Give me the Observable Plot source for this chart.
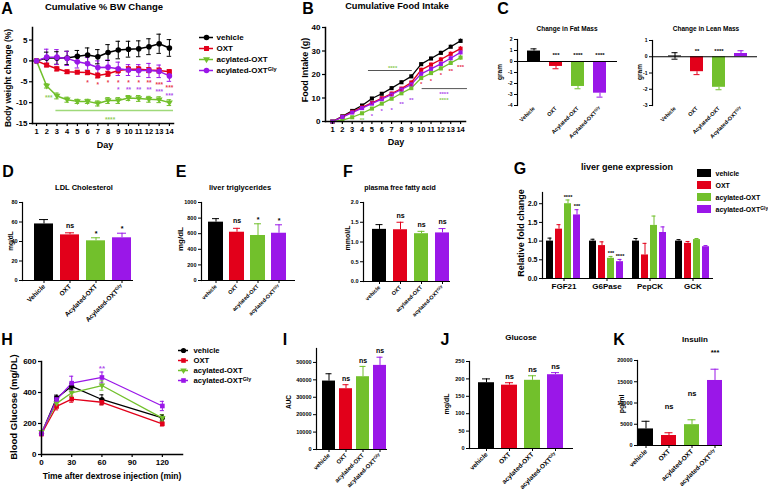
<!DOCTYPE html>
<html><head><meta charset="utf-8">
<script src="https://cdn.jsdelivr.net/npm/d3@7"></script>
<script src="https://cdn.jsdelivr.net/npm/@observablehq/plot@0.6"></script>
<style>
body{margin:0;background:#fff;}
#page{position:relative;width:768px;height:492px;overflow:hidden;background:#fff;font-family:'Liberation Sans',Arial,sans-serif;}
#page svg{position:absolute;left:0;top:0;max-width:none;}
.lbl{position:absolute;white-space:nowrap;line-height:1;font-weight:bold;color:#000;}
</style></head><body><div id="page"></div>
<script>
// ================= DATA =================
const names = ["vehicle", "OXT", "acylated-OXT", "acylated-OXTGly"];
const namesCap = ["Vehicle", "OXT", "Acylated-OXT", "Acylated-OXTGly"];
const colors = ["#000000", "#e2001a", "#72c02c", "#9a17e8"];

// A: cumulative % body weight change
const days = [1, 2, 3, 4, 5, 6, 7, 8, 9, 10, 11, 12, 13, 14];
const bwVehicle = [0, 0.7, 0.7, 0.7, 1.1, 1.4, 1.0, 2.0, 2.6, 2.8, 2.9, 3.4, 4.1, 3.1];
const bwVehicleErr = [0.1, 1.4, 1.5, 1.6, 1.4, 1.7, 1.7, 1.9, 2.1, 1.9, 1.9, 1.9, 2.3, 2.0];
const bwOXT = [0, -1.0, -1.9, -2.6, -2.7, -2.8, -3.5, -3.1, -2.3, -2.0, -2.0, -2.2, -2.3, -2.6];
const bwOXTErr = [0.1, 0.4, 0.5, 0.4, 0.4, 0.5, 0.6, 0.6, 0.6, 0.6, 0.6, 0.6, 0.6, 0.5];
const bwAcyl = [0, -6.0, -8.4, -9.3, -9.7, -9.7, -10.2, -9.5, -9.5, -8.9, -9.0, -9.2, -9.3, -10.0];
const bwAcylErr = [0.1, 0.5, 0.7, 0.6, 0.5, 0.5, 0.6, 0.7, 0.7, 0.6, 0.7, 0.7, 0.7, 0.7];
const bwGly = [0, 0.9, 0.9, 0.6, -0.2, -0.7, -1.6, -1.5, -1.9, -2.2, -2.3, -2.3, -2.5, -3.6];
const bwGlyErr = [0.1, 1.9, 1.8, 1.7, 1.5, 1.5, 1.6, 1.7, 1.6, 1.3, 1.4, 1.7, 1.5, 1.3];
const bwStarOXTDays = [6, 7, 8, 9, 10, 11, 12, 13, 14];
const bwStarOXTY = [-4.8, -5.5, -5.0, -4.8, -5.0, -4.8, -4.8, -5.4, -6.2];
const bwStarOXTText = ["*", "*", "*", "*", "*", "*", "**", "***", "***"];
const bwStarGlyDays = [9, 10, 11, 12, 13, 14];
const bwStarGlyY = [-6.5, -6.7, -6.7, -6.5, -7.1, -8.0];
const bwStarGlyText = ["*", "**", "**", "**", "***", "***"];
const bwStarAcylDays = [2.2, 8.2];
const bwStarAcylY = [-8.6, -13.7];
const bwStarAcylText = ["***", "****"];
const bwBracketDays = [2.9, 14.4];
const bwBracketY = -11.9;

// B: cumulative food intake
const fiVehicle = [0, 2.2, 4.5, 6.8, 9.8, 11.8, 14.2, 16.7, 19.2, 24.4, 26.8, 29.2, 31.8, 34.3];
const fiOXT = [0, 2.0, 4.1, 6.0, 7.9, 9.9, 11.9, 14.0, 16.6, 22.0, 24.2, 26.4, 28.8, 31.0];
const fiAcyl = [0, 0.6, 1.8, 3.5, 5.5, 7.6, 9.7, 12.0, 14.2, 18.5, 20.6, 22.6, 24.9, 27.2];
const fiGly = [0, 1.9, 3.8, 5.7, 7.6, 9.5, 11.5, 13.6, 15.8, 20.3, 22.4, 24.5, 26.9, 29.4];
const fiVehicleErr = [0, 0.2, 0.3, 0.3, 0.4, 0.4, 0.5, 0.5, 0.6, 0.6, 0.6, 0.7, 0.7, 0.8];
const fiOXTErr = [0, 0.2, 0.3, 0.3, 0.4, 0.4, 0.5, 0.5, 0.6, 0.7, 0.7, 0.8, 0.8, 0.9];
const fiAcylErr = [0, 0.2, 0.3, 0.4, 0.5, 0.5, 0.6, 0.7, 0.7, 0.8, 0.9, 1.0, 1.0, 1.1];
const fiGlyErr = [0, 0.2, 0.3, 0.3, 0.4, 0.5, 0.5, 0.6, 0.7, 0.8, 0.8, 0.9, 1.0, 1.0];
const fiStarOXTDays = [5, 6, 7, 8, 9, 10, 11, 12, 13, 14];
const fiStarOXTY = [8.0, 10.1, 11.5, 13.6, 15.6, 16.7, 17.9, 20.6, 22.1, 23.8];
const fiStarOXTText = ["*", "*", "*", "*", "*", "*", "*", "*", "**", "***"];
const fiStarGlyDays = [5, 6, 7, 8, 9, 12.3];
const fiStarGlyY = [2.9, 5.1, 5.6, 8.0, 9.7, 12.5];
const fiStarGlyText = ["*", "*", "*", "**", "**", "****"];
const fiStarAcylDays = [4, 7.1, 12.3];
const fiStarAcylY = [1.1, 23.2, 9.9];
const fiStarAcylText = ["**", "****", "****"];
const fiBracketX1 = [4.65, 10.1];
const fiBracketX2 = [9.1, 14.7];
const fiBracketY = [21.7, 14.0];

// C: body composition
const fatMass = [0.95, -0.45, -2.27, -2.88];
const fatErr = [0.2, 0.21, 0.21, 0.36];
const fatSig = ["", "***", "****", "****"];
const fatSigY = [0, 0.73, 0.73, 0.73];
const leanMass = [0.05, -0.92, -1.88, 0.2];
const leanErr = [0.2, 0.18, 0.15, 0.17];
const leanBoth = [true, false, false, false];
const leanSig = ["", "**", "****", ""];
const leanSigY = [0, 0.5, 0.5, 0];

// D, E, F
const ldl = [58, 46.8, 40.7, 43.8];
const ldlErr = [4.5, 2.1, 3.1, 4.7];
const ldlSig = ["", "ns", "*", "*"];
const tg = [748, 619, 577, 606];
const tgErr = [45, 50, 150, 108];
const tgSig = ["", "ns", "*", "*"];
const ffa = [1.32, 1.31, 1.21, 1.23];
const ffaErr = [0.12, 0.19, 0.06, 0.11];
const ffaSig = ["", "ns", "ns", "ns"];

// G: liver gene expression
const genes = ["FGF21", "G6Pase", "PepCK", "GCK"];
const geneVehicle = [1.0, 1.0, 1.0, 1.0];
const geneVehicleErr = [0.08, 0.05, 0.07, 0.04];
const geneOXT = [1.32, 0.88, 0.63, 0.94];
const geneOXTErr = [0.12, 0.1, 0.31, 0.05];
const geneAcyl = [2.0, 0.54, 1.42, 1.04];
const geneAcylErr = [0.1, 0.05, 0.25, 0.03];
const geneGly = [1.7, 0.45, 1.23, 0.85];
const geneGlyErr = [0.14, 0.06, 0.15, 0.03];
const geneSigAcyl = ["****", "***", "", ""];
const geneSigGly = ["***", "****", "", ""];

// H: glucose tolerance
const ogttTime = [0, 15, 30, 60, 120];
const ogttVehicle = [135, 365, 440, 355, 237];
const ogttVehicleErr = [10, 18, 20, 30, 20];
const ogttOXT = [132, 310, 357, 337, 198];
const ogttOXTErr = [10, 22, 20, 18, 14];
const ogttAcyl = [145, 330, 398, 445, 235];
const ogttAcylErr = [10, 20, 25, 30, 20];
const ogttGly = [135, 355, 460, 497, 313];
const ogttGlyErr = [10, 20, 45, 35, 30];

// I, J, K
const auc = [39300, 34900, 41800, 48300];
const aucErr = [4200, 2300, 5900, 4700];
const aucSig = ["", "ns", "ns", "ns"];
const glu = [189, 182, 196, 212];
const gluErr = [11, 7, 13, 6];
const gluSig = ["", "ns", "ns", "ns"];
const ins = [3900, 2350, 4900, 15300];
const insErr = [1800, 650, 1150, 2650];
const insSig = ["", "ns", "ns", "***"];

// ================= HELPERS =================
const page = document.getElementById("page");
const STYLE = "background:transparent;overflow:visible;font-family:'Liberation Sans',Arial,sans-serif;";
function frame(x0, x1, y0, y1) {
  return {width: 768, height: 492, marginLeft: x0, marginRight: 768 - x1, marginTop: y0, marginBottom: 492 - y1, style: STYLE};
}
function supGly(root) {
  root.querySelectorAll("text, tspan").forEach(t => {
    if (t.children.length === 0 && /OXTGly$/.test(t.textContent)) {
      t.textContent = t.textContent.slice(0, -3);
      const s = document.createElementNS("http://www.w3.org/2000/svg", "tspan");
      s.setAttribute("font-size", "70%");
      s.setAttribute("dy", "-0.45em");
      s.textContent = "Gly";
      t.appendChild(s);
    }
  });
}
function place(svg) { supGly(svg); page.appendChild(svg); }
function lbl(text, x, y, size, rot = 0) {
  const d = document.createElement("div");
  d.className = "lbl";
  d.textContent = text;
  d.style.left = x + "px"; d.style.top = y + "px"; d.style.fontSize = size + "px";
  d.style.transform = "translate(-50%,-50%)" + (rot ? ` rotate(${rot}deg)` : "");
  page.appendChild(d);
}
const triDown = {draw(ctx, size) {
  const r = Math.sqrt(size / Math.PI) * 1.3;
  ctx.moveTo(0, r); ctx.lineTo(-r * 0.95, -r * 0.6); ctx.lineTo(r * 0.95, -r * 0.6); ctx.closePath();
}};
const color = {domain: names, range: colors};
function longRows(xs, vals, errs) {
  return names.flatMap((n, i) => xs.map((x, j) => ({series: n, x, y: vals[i][j], e: errs[i][j]})));
}
function starRows(series, xs, ys, ts) { return xs.map((x, i) => ({series, x, y: ys[i], t: ts[i]})); }

function barPanel(o) {
  const rows = o.names.map((n, i) => ({name: n, v: o.values[i], e: o.errs[i], s: o.sig[i],
    sy: o.sigY ? o.sigY[i] : null, both: o.both ? o.both[i] : false}));
  const end = d => d.v < 0 ? d.v - d.e : d.v + d.e;
  const sigPos = d => d.sy != null ? d.sy : end(d);
  return Plot.plot({
    ...frame(o.x0, o.x1, o.y0, o.y1),
    x: {type: "band", domain: o.names, range: o.xr, paddingInner: o.pin, paddingOuter: o.pout ?? 0, label: null},
    y: {domain: o.domain, label: null},
    color: {domain: o.names, range: colors},
    marks: [
      Plot.ruleX(rows, {x: "name", y1: d => d.both ? d.v - d.e : d.v, y2: end, stroke: "name", strokeWidth: 1}),
      Plot.tickY(rows, {x: "name", y: end, stroke: "name", strokeWidth: 1, inset: o.cap}),
      Plot.tickY(rows.filter(d => d.both), {x: "name", y: d => d.v - d.e, stroke: "name", strokeWidth: 1, inset: o.cap}),
      Plot.barY(rows, {x: "name", y: "v", fill: "name"}),
      Plot.ruleY([0], {strokeWidth: 1.2}),
      Plot.frame({anchor: "left", strokeWidth: 1.2}),
      Plot.axisY({ticks: o.ticks, tickFormat: o.fmt, tickSize: 3, tickPadding: 2, fontSize: o.tfs, fontWeight: "bold", label: null}),
      Plot.axisX({anchor: "bottom", tickRotate: -45, tickSize: o.xtick ?? 3, tickPadding: 2, fontSize: o.xfs, fontWeight: "bold", label: null}),
      Plot.text(rows.filter(d => d.s && d.s[0] !== "*"), {x: "name", y: sigPos, text: "s", dy: o.nsDy, fontSize: o.sfs, fontWeight: "bold"}),
      Plot.text(rows.filter(d => d.s && d.s[0] === "*"), {x: "name", y: sigPos, text: "s", dy: o.starDy, fontSize: o.sfs, fontWeight: "bold"})
    ]
  });
}

// ================= PANEL A =================
{
  const rows = longRows(days, [bwVehicle, bwOXT, bwAcyl, bwGly], [bwVehicleErr, bwOXTErr, bwAcylErr, bwGlyErr]);
  const stars = [
    ...starRows("OXT", bwStarOXTDays, bwStarOXTY, bwStarOXTText),
    ...starRows("acylated-OXTGly", bwStarGlyDays, bwStarGlyY, bwStarGlyText),
    ...starRows("acylated-OXT", bwStarAcylDays, bwStarAcylY, bwStarAcylText)
  ];
  place(Plot.plot({
    ...frame(32, 173, 27, 123),
    x: {domain: [0.61, 14.4], label: null},
    y: {domain: [-15, 8], label: null},
    color,
    symbol: {domain: names, range: ["circle", "square", triDown, "circle"]},
    marks: [
      Plot.ruleY([bwBracketY], {x1: bwBracketDays[0], x2: bwBracketDays[1], stroke: "#9fd97a", strokeWidth: 1.5}),
      Plot.ruleX(rows, {x: "x", y1: d => d.y - d.e, y2: d => d.y + d.e, stroke: "series", strokeWidth: 1}),
      Plot.ruleY(rows, {y: d => d.y + d.e, x1: d => d.x - 0.22, x2: d => d.x + 0.22, stroke: "series", strokeWidth: 1}),
      Plot.ruleY(rows, {y: d => d.y - d.e, x1: d => d.x - 0.22, x2: d => d.x + 0.22, stroke: "series", strokeWidth: 1}),
      Plot.line(rows, {x: "x", y: "y", z: "series", stroke: "series", strokeWidth: 1.5}),
      Plot.dot(rows, {x: "x", y: "y", fill: "series", symbol: "series", r: 2.8}),
      Plot.text(stars, {x: "x", y: "y", text: "t", fill: "series", fontSize: 6.5, fontWeight: "bold", dy: 1.5, fillOpacity: 0.8}),
      Plot.frame({anchor: "left", strokeWidth: 1.5}),
      Plot.frame({anchor: "bottom", strokeWidth: 1.5}),
      Plot.axisY({ticks: [-15, -10, -5, 0, 5], tickFormat: d => String(d), tickSize: 3, tickPadding: 2, fontSize: 8, fontWeight: "bold", strokeWidth: 1.2, label: null}),
      Plot.axisX({ticks: days, tickFormat: d => String(d), tickSize: 3, tickPadding: 2, fontSize: 7.5, fontWeight: "bold", strokeWidth: 1.2, label: null})
    ]
  }));
  // legend A
  place(Plot.plot({
    width: 768, height: 492, margin: 0, style: STYLE,
    x: {domain: [0, 1], range: [199, 213], axis: null},
    y: {type: "point", domain: names, range: [31, 75], axis: null},
    color, symbol: {domain: names, range: ["circle", "square", triDown, "circle"]},
    marks: [
      Plot.ruleY(names, {y: d => d, x1: 0, x2: 1, stroke: d => d, strokeWidth: 1.5}),
      Plot.dot(names, {x: 0.5, y: d => d, fill: d => d, symbol: d => d, r: 2.8}),
      Plot.text(names, {x: 1, dx: 3, y: d => d, text: d => d, textAnchor: "start", fontSize: 8, fontWeight: "bold"})
    ]
  }));
}

// ================= PANEL B =================
{
  const rows = longRows(days, [fiVehicle, fiOXT, fiAcyl, fiGly], [fiVehicleErr, fiOXTErr, fiAcylErr, fiGlyErr]);
  const stars = [
    ...starRows("OXT", fiStarOXTDays, fiStarOXTY, fiStarOXTText),
    ...starRows("acylated-OXTGly", fiStarGlyDays, fiStarGlyY, fiStarGlyText),
    ...starRows("acylated-OXT", fiStarAcylDays, fiStarAcylY, fiStarAcylText)
  ];
  const brackets = fiBracketY.map((y, i) => ({y, x1: fiBracketX1[i], x2: fiBracketX2[i]}));
  place(Plot.plot({
    ...frame(325, 465, 27, 121),
    x: {domain: [0.29, 14.5], label: null},
    y: {domain: [0, 40], label: null},
    color,
    marks: [
      Plot.ruleY(brackets, {y: "y", x1: "x1", x2: "x2", stroke: "#555", strokeWidth: 1}),
      Plot.ruleX(rows, {x: "x", y1: d => d.y - d.e, y2: d => d.y + d.e, stroke: "series", strokeWidth: 1}),
      Plot.line(rows, {x: "x", y: "y", z: "series", stroke: "series", strokeWidth: 1.3}),
      Plot.dot(rows, {x: "x", y: "y", fill: "series", symbol: "square", r: 2.3}),
      Plot.text(stars, {x: "x", y: "y", text: "t", fill: "series", fontSize: 6, fontWeight: "bold", dy: 1.5, fillOpacity: 0.85}),
      Plot.frame({anchor: "left", strokeWidth: 1.5}),
      Plot.frame({anchor: "bottom", strokeWidth: 1.5}),
      Plot.axisY({ticks: [0, 10, 20, 30, 40], tickFormat: d => String(d), tickSize: 3, tickPadding: 2, fontSize: 8, fontWeight: "bold", strokeWidth: 1.2, label: null}),
      Plot.axisX({ticks: days, tickFormat: d => String(d), tickSize: 3, tickPadding: 2, fontSize: 7.5, fontWeight: "bold", strokeWidth: 1.2, label: null})
    ]
  }));
}

// ================= PANEL C =================
place(barPanel({names: namesCap, values: fatMass, errs: fatErr, sig: fatSig, sigY: fatSigY,
  x0: 517, x1: 617, y0: 39, y1: 105, xr: [516, 617], pin: 0.4, pout: 0.4, domain: [-4, 2],
  ticks: [-4, -3, -2, -1, 0, 1, 2], fmt: d => String(d), tfs: 5, xfs: 5.5, xtick: 0, sfs: 6, nsDy: 0, starDy: 2, cap: 3.5}));
place(barPanel({names: namesCap, values: leanMass, errs: leanErr, sig: leanSig, sigY: leanSigY, both: leanBoth,
  x0: 652, x1: 757, y0: 40, y1: 105, xr: [657, 758], pin: 0.4, pout: 0.4, domain: [-3, 1],
  ticks: [-3, -2, -1, 0, 1], fmt: d => String(d), tfs: 5, xfs: 5.5, xtick: 0, sfs: 6, nsDy: 0, starDy: 2, cap: 3.5}));

// ================= PANELS D, E, F =================
place(barPanel({names: namesCap, values: ldl, errs: ldlErr, sig: ldlSig,
  x0: 22, x1: 133, y0: 202, y1: 280, xr: [33, 133], pin: 0.26, domain: [0, 80],
  ticks: [0, 20, 40, 60, 80], fmt: d => String(d), tfs: 5.5, xfs: 6.5, sfs: 7, nsDy: -7, starDy: -4, cap: 5}));
place(barPanel({names: names, values: tg, errs: tgErr, sig: tgSig,
  x0: 201, x1: 295, y0: 202, y1: 280, xr: [207, 287], pin: 0.28, domain: [0, 1000],
  ticks: [0, 200, 400, 600, 800, 1000], fmt: d => String(d), tfs: 5.5, xfs: 5.5, sfs: 7, nsDy: -8, starDy: -4, cap: 4}));
place(barPanel({names: names, values: ffa, errs: ffaErr, sig: ffaSig,
  x0: 363, x1: 450, y0: 202, y1: 281, xr: [371, 450], pin: 0.35, domain: [0, 2],
  ticks: [0, 0.5, 1, 1.5, 2], fmt: d3.format(".1f"), tfs: 5.5, xfs: 5.5, sfs: 7, nsDy: -7, starDy: -4, cap: 3.5}));

// ================= PANEL G =================
{
  const vals = [geneVehicle, geneOXT, geneAcyl, geneGly];
  const errs = [geneVehicleErr, geneOXTErr, geneAcylErr, geneGlyErr];
  const sigs = [["", "", "", ""], ["", "", "", ""], geneSigAcyl, geneSigGly];
  const rows = genes.flatMap((g, gi) => names.map((n, si) => ({gene: g, name: n, v: vals[si][gi], e: errs[si][gi], s: sigs[si][gi]})));
  place(Plot.plot({
    ...frame(542, 713, 192, 278),
    fx: {domain: genes, paddingInner: 0.1, paddingOuter: 0, label: null},
    x: {domain: names, paddingInner: 0.2, paddingOuter: 0.1, axis: null},
    y: {domain: [0, 2.3], axis: null},
    color,
    marks: [
      Plot.ruleX(rows, {fx: "gene", x: "name", y1: "v", y2: d => d.v + d.e, stroke: "name", strokeWidth: 1}),
      Plot.tickY(rows, {fx: "gene", x: "name", y: d => d.v + d.e, stroke: "name", strokeWidth: 1, inset: 1.5}),
      Plot.barY(rows, {fx: "gene", x: "name", y: "v", fill: "name"}),
      Plot.text(rows.filter(d => d.s), {fx: "gene", x: "name", y: d => d.v + d.e, text: "s", dy: -3, fontSize: 5.5, fontWeight: "bold"}),
      Plot.axisFx({anchor: "bottom", tickSize: 3, tickPadding: 2, fontSize: 8, fontWeight: "bold", label: null})
    ]
  }));
  place(Plot.plot({
    ...frame(542, 713, 192, 278),
    y: {domain: [0, 2.3], label: null},
    marks: [
      Plot.ruleY([0], {strokeWidth: 1.2}),
      Plot.frame({anchor: "left", strokeWidth: 1.2}),
      Plot.axisY({ticks: [0, 0.5, 1, 1.5, 2], tickFormat: d3.format(".1f"), tickSize: 3, tickPadding: 2, fontSize: 7, fontWeight: "bold", label: null})
    ]
  }));
  // legend G
  place(Plot.plot({
    width: 768, height: 492, margin: 0, style: STYLE,
    x: {domain: [0, 1], range: [697, 711], axis: null},
    y: {type: "band", domain: names, range: [167, 215], padding: 0, axis: null},
    color,
    marks: [
      Plot.barX(names, {x1: 0, x2: 1, y: d => d, fill: d => d, insetTop: 2, insetBottom: 2}),
      Plot.text(names, {x: 1, dx: 4, y: d => d, text: d => d, textAnchor: "start", fontSize: 7, fontWeight: "bold"})
    ]
  }));
}

// ================= PANEL H =================
{
  const rows = longRows(ogttTime, [ogttVehicle, ogttOXT, ogttAcyl, ogttGly], [ogttVehicleErr, ogttOXTErr, ogttAcylErr, ogttGlyErr]);
  const sym = {domain: names, range: ["circle", "square", triDown, "square"]};
  place(Plot.plot({
    ...frame(41, 182, 361, 454),
    x: {domain: [0, 140], label: null},
    y: {domain: [0, 600], label: null},
    color, symbol: sym,
    marks: [
      Plot.ruleX(rows, {x: "x", y1: d => d.y - d.e, y2: d => d.y + d.e, stroke: "series", strokeWidth: 1}),
      Plot.ruleY(rows, {y: d => d.y + d.e, x1: d => d.x - 2, x2: d => d.x + 2, stroke: "series", strokeWidth: 1}),
      Plot.ruleY(rows, {y: d => d.y - d.e, x1: d => d.x - 2, x2: d => d.x + 2, stroke: "series", strokeWidth: 1}),
      Plot.line(rows, {x: "x", y: "y", z: "series", stroke: "series", strokeWidth: 1.3}),
      Plot.dot(rows, {x: "x", y: "y", fill: "series", symbol: "series", r: 2.6}),
      Plot.text([{x: 60, y: ogttGly[3] + ogttGlyErr[3], t: "**"}], {x: "x", y: "y", text: "t", fill: colors[3], fontSize: 8, fontWeight: "bold", dy: -4, fillOpacity: 0.8}),
      Plot.frame({anchor: "left", strokeWidth: 1.5}),
      Plot.frame({anchor: "bottom", strokeWidth: 1.5}),
      Plot.axisY({ticks: [0, 200, 400, 600], tickFormat: d => String(d), tickSize: 3, tickPadding: 2, fontSize: 8, fontWeight: "bold", strokeWidth: 1.2, label: null}),
      Plot.axisX({ticks: [0, 30, 60, 90, 120], tickFormat: d => String(d), tickSize: 3, tickPadding: 2, fontSize: 8, fontWeight: "bold", strokeWidth: 1.2, label: null})
    ]
  }));
  place(Plot.plot({
    width: 768, height: 492, margin: 0, style: STYLE,
    x: {domain: [0, 1], range: [178, 188], axis: null},
    y: {type: "point", domain: names, range: [345, 385], axis: null},
    color, symbol: sym,
    marks: [
      Plot.ruleY(names, {y: d => d, x1: 0, x2: 1, stroke: d => d, strokeWidth: 1.5}),
      Plot.dot(names, {x: 0.5, y: d => d, fill: d => d, symbol: d => d, r: 2.6}),
      Plot.text(names, {x: 1, dx: 5, y: d => d, text: d => d, textAnchor: "start", fontSize: 7.7, fontWeight: "bold"})
    ]
  }));
}

// ================= PANELS I, J, K =================
place(barPanel({names: names, values: auc, errs: aucErr, sig: aucSig,
  x0: 316, x1: 387, y0: 348, y1: 449, xr: [320, 388], pin: 0.22, domain: [0, 58000],
  ticks: [0, 10000, 20000, 30000, 40000, 50000], fmt: d3.format("d"), tfs: 5.5, xfs: 6, sfs: 7, nsDy: -6, starDy: -4, cap: 3.5}));
place(barPanel({names: names, values: glu, errs: gluErr, sig: gluSig,
  x0: 469, x1: 573, y0: 361, y1: 448, xr: [477, 564], pin: 0.3, domain: [0, 250],
  ticks: [0, 50, 100, 150, 200, 250], fmt: d3.format("d"), tfs: 5.5, xfs: 6.5, sfs: 7.5, nsDy: -6, starDy: -4, cap: 4}));
place(barPanel({names: names, values: ins, errs: insErr, sig: insSig,
  x0: 637, x1: 722, y0: 360, y1: 445, xr: [638, 722], pin: 0.35, domain: [0, 20000],
  ticks: [0, 5000, 10000, 15000, 20000], fmt: d3.format("d"), tfs: 5.5, xfs: 6.5, sfs: 7.5, nsDy: -26, starDy: -17, cap: 3.5}));

// ================= TEXT: panel letters, titles, axis titles =================
[["A", 7, 9], ["B", 308, 9], ["C", 503, 9], ["D", 8, 172], ["E", 181, 172], ["F", 348, 172],
 ["G", 520, 169], ["H", 7, 340], ["I", 285, 340], ["J", 445, 340], ["K", 619, 340]]
  .forEach(([t, x, y]) => lbl(t, x, y, 16));
lbl("Cumulative % BW Change", 104, 7, 9.5);
lbl("Cumulative Food Intake", 397, 7, 9.2);
lbl("Change in Fat Mass", 567, 29, 6.5);
lbl("Change in Lean Mass", 706, 29, 6.5);
lbl("LDL Cholesterol", 84, 188, 7.5);
lbl("liver triglycerides", 240, 188, 7.5);
lbl("plasma free fatty acid", 400, 187, 7);
lbl("liver gene expression", 627, 167, 9);
lbl("Glucose", 521, 338, 8);
lbl("Insulin", 695, 340, 8);
lbl("Body weight change (%)", 8, 78, 8.5, -90);
lbl("Day", 105, 145, 9);
lbl("Food Intake (g)", 305, 70, 9, -90);
lbl("Day", 396, 142, 9);
lbl("gram", 500, 72, 6.5, -90);
lbl("gram", 640, 72, 6.5, -90);
lbl("mg/dL", 10.5, 241, 6.5, -90);
lbl("mg/dL", 181, 239, 8, -90);
lbl("mmol/L", 347, 238, 7, -90);
lbl("Relative fold change", 521, 233, 9, -90);
lbl("Blood Glucose (mg/DL)", 14, 407, 9.5, -90);
lbl("Time after dextrose injection (min)", 112, 476, 8.5);
lbl("AUC", 289, 402, 6.5, -90);
lbl("mg/dL", 445.5, 404, 7, -90);
lbl("pg/ml", 620.5, 404, 7, -90);
</script></body></html>
